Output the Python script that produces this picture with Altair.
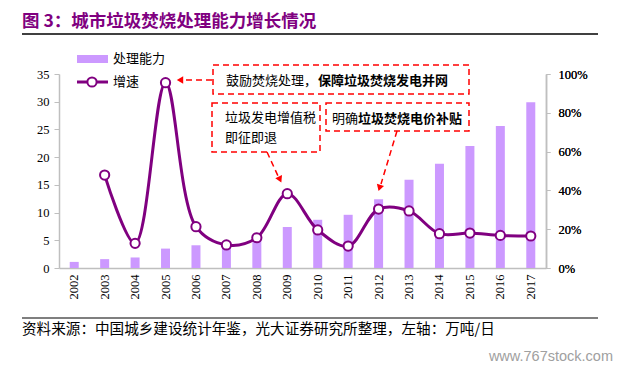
import altair as alt
import pandas as pd

years = ["2002", "2003", "2004", "2005", "2006", "2007", "2008", "2009",
         "2010", "2011", "2012", "2013", "2014", "2015", "2016", "2017"]
capacity = [1.1, 1.6, 1.9, 3.5, 4.1, 4.5, 5.4, 7.4, 8.7, 9.6, 12.4, 15.9, 18.8, 22.0, 25.6, 29.9]
growth = [None, 47.9, 12.7, 95.5, 21.3, 11.9, 15.6, 38.3, 19.6, 11.3, 30.4, 29.4, 17.7, 18.0, 16.8, 16.5]

title_text = "图 3：城市垃圾焚烧处理能力增长情况"
source_text = "资料来源：中国城乡建设统计年鉴，光大证券研究所整理，左轴：万吨/日"
watermark = "www.767stock.com"
legend_bar = "处理能力"
legend_line = "增速"

BAR = "#CC99FF"
LINE = "#800080"
RED = "#FF0000"
CJK = "Noto Sans CJK SC"
SERIF = "Liberation Serif"

df = pd.DataFrame({"year": years, "capacity": capacity})
dl = pd.DataFrame({"year": years, "growth": growth}).dropna()
dummy = pd.DataFrame({"a": [0]})

xenc = alt.X("year:O", title=None,
             scale=alt.Scale(paddingInner=0, paddingOuter=0),
             axis=alt.Axis(labelAngle=270, ticks=False, labelPadding=6,
                           labelFont=SERIF, labelFontSize=12.5, labelColor="black",
                           domainColor="#BFBFBF", domainWidth=1.5,
                           labelBaseline="middle", labelAlign="right"))

bars = alt.Chart(df).mark_bar(size=9, color=BAR).encode(
    x=xenc,
    y=alt.Y("capacity:Q", title=None,
            scale=alt.Scale(domain=[0, 35], nice=False),
            axis=alt.Axis(values=[0, 5, 10, 15, 20, 25, 30, 35], grid=False,
                          domainColor="#BFBFBF", tickColor="#BFBFBF", domainWidth=1.5,
                          tickSize=5, labelPadding=5,
                          labelFont=SERIF, labelFontSize=12.5, labelColor="black"))
)

yr = alt.Y("growth:Q", title=None,
           scale=alt.Scale(domain=[0, 100], nice=False),
           axis=alt.Axis(orient="right", values=[0, 20, 40, 60, 80, 100], grid=False,
                         labelExpr="datum.value + '%'",
                         domainColor="#BFBFBF", tickColor="#BFBFBF", domainWidth=1.5,
                         tickSize=4, labelPadding=8,
                         labelFont=SERIF, labelFontSize=12.5, labelColor="black"))

line = alt.Chart(dl).mark_line(color=LINE, strokeWidth=3, interpolate="catmull-rom").encode(
    x=alt.X("year:O"), y=yr)
pts = alt.Chart(dl).mark_point(filled=True, fill="white", stroke=LINE, strokeWidth=2,
                               size=85, opacity=1).encode(x=alt.X("year:O"), y=yr)


def txt(s, x, y, size=13, bold=False, color="black", font=CJK, align="left"):
    return alt.Chart(dummy).mark_text(
        align=align, baseline="middle", fontSize=size, font=font,
        fontWeight="bold" if bold else "normal", color=color
    ).encode(x=alt.value(x), y=alt.value(y), text=alt.value(s))


def rule(x1, y1, x2, y2, color="black", width=1.0, dash=None):
    kw = dict(color=color, strokeWidth=width)
    if dash:
        kw["strokeDash"] = dash
    return alt.Chart(dummy).mark_rule(**kw).encode(
        x=alt.value(x1), y=alt.value(y1), x2=alt.value(x2), y2=alt.value(y2))


def box(x1, y1, x2, y2):
    return alt.Chart(dummy).mark_rect(fill=None, stroke=RED, strokeWidth=1.5,
                                      strokeDash=[6, 4]).encode(
        x=alt.value(x1), y=alt.value(y1), x2=alt.value(x2), y2=alt.value(y2))


def head(x, y, angle):
    return alt.Chart(dummy).mark_point(shape="triangle-up", filled=True, color=RED,
                                       size=55, opacity=1, angle=angle).encode(
        x=alt.value(x), y=alt.value(y))


ann = [
    txt(title_text, -37, -52, size=17.5, bold=True, color="#800080"),
    rule(-37, -40, 539, -40, width=1.5),
    rule(-37, 244, 539, 244, width=1.2),
    txt(source_text, -37, 256, size=14.6),
    txt(watermark, 554, 283, size=14.5, color="#A0A0A0", font="Liberation Sans", align="right"),
    # legend
    alt.Chart(dummy).mark_rect(color=BAR).encode(
        x=alt.value(18), x2=alt.value(49), y=alt.value(-19), y2=alt.value(-11)),
    txt(legend_bar, 54, -15.5, size=13),
    rule(18, 8, 49, 8, color=LINE, width=3),
    alt.Chart(dummy).mark_point(filled=True, fill="white", stroke=LINE, strokeWidth=2,
                                size=85, opacity=1).encode(x=alt.value(33), y=alt.value(8)),
    txt(legend_line, 54, 8, size=13),
    # annotation boxes
    box(154, -9, 410, 20),
    txt("鼓励焚烧处理，", 167, 6.5, size=13),
    txt("保障垃圾焚烧发电并网", 259, 6.5, size=13, bold=True),
    box(153, 29, 261, 78),
    txt("垃圾发电增值税", 166, 44, size=13),
    txt("即征即退", 166, 64, size=13),
    box(267, 29, 410, 57),
    txt("明确", 273, 44.5, size=13),
    txt("垃圾焚烧电价补贴", 299, 44.5, size=13, bold=True),
    # arrows
    rule(153, 6, 124, 6, color=RED, width=1.5, dash=[6, 4]),
    head(121, 6, 270),
    rule(208, 78, 219, 102, color=RED, width=1.5, dash=[6, 4]),
    head(221, 105.5, 155),
    rule(338, 57, 322, 110, color=RED, width=1.5, dash=[6, 4]),
    head(320.5, 114, 197),
]

base = alt.layer(bars, line, pts).resolve_scale(y="independent")
chart = alt.layer(base, *ann).properties(
    width=487, height=194,
    autosize=alt.AutoSizeParams(type="none"),
    padding={"left": 51, "top": 66, "right": 69, "bottom": 98},
).configure_view(stroke=None)

chart.save("out.html", embed_options={"renderer": "svg", "actions": False})
